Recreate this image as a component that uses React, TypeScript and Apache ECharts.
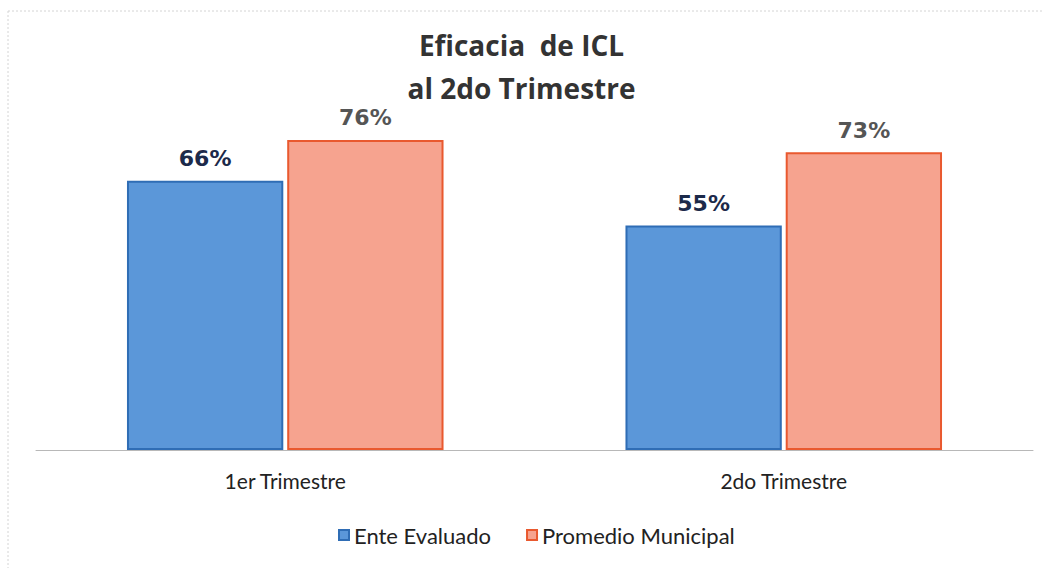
import React, { useEffect, useRef } from "react";
import * as echarts from "echarts";

const categories = ["1er Trimestre", "2do Trimestre"];
const enteEvaluado = [0.66, 0.55];
const promedioMunicipal = [0.76, 0.73];
const titleLines = ["Eficacia  de ICL", "al 2do Trimestre"];

export default function App() {
  const ref = useRef<HTMLDivElement>(null);
  useEffect(() => {
    if (!ref.current) return;
    const chart = echarts.init(ref.current, null, { renderer: "svg" });
    const pct = (p: any) => Math.round(p.value * 100) + "%";
    chart.setOption({
      animation: false,
      backgroundColor: "#ffffff",
      title: {
        text: titleLines.join("\n"),
        left: "center",
        top: 18,
        textStyle: {
          fontFamily: "Open Sans",
          fontSize: 28,
          fontWeight: "bold",
          color: "#333333",
          lineHeight: 43,
        },
      },
      graphic: [
        {
          type: "line",
          shape: { x1: 8, y1: 11, x2: 1043, y2: 11 },
          style: { stroke: "#d4d4d4", lineWidth: 1, lineDash: [2, 2] },
        },
        {
          type: "line",
          shape: { x1: 8, y1: 11, x2: 8, y2: 568 },
          style: { stroke: "#d4d4d4", lineWidth: 1, lineDash: [2, 2] },
        },
      ],
      grid: { left: 36, right: 10, top: 42, bottom: 118, containLabel: false },
      xAxis: {
        type: "category",
        data: categories,
        axisLine: { lineStyle: { color: "#b8b8b8", width: 1 } },
        axisTick: { show: false },
        axisLabel: {
          margin: 20,
          fontFamily: "Lato",
          fontSize: 21,
          color: "#222222",
        },
      },
      yAxis: {
        type: "value",
        min: 0,
        max: 1,
        show: false,
        splitLine: { show: false },
      },
      legend: {
        top: 519,
        left: 333,
        itemWidth: 10,
        itemHeight: 10,
        itemGap: 35,
        icon: "rect",
        textStyle: { fontFamily: "Lato", fontSize: 22, color: "#222222" },
        data: ["Ente Evaluado", "Promedio Municipal"],
      },
      series: [
        {
          name: "Ente Evaluado",
          type: "bar",
          data: enteEvaluado,
          barGap: "2.5%",
          barCategoryGap: "36.5%",
          itemStyle: { color: "#5b97d9", borderColor: "#2f6db5", borderWidth: 2 },
          label: {
            show: true,
            position: "top",
            distance: 11,
            formatter: pct,
            fontFamily: "DejaVu Sans",
            fontWeight: "bold",
            fontSize: 22,
            color: "#1c2a4a",
          },
        },
        {
          name: "Promedio Municipal",
          type: "bar",
          data: promedioMunicipal,
          itemStyle: { color: "#f6a38f", borderColor: "#e9592f", borderWidth: 2 },
          label: {
            show: true,
            position: "top",
            distance: 11,
            formatter: pct,
            fontFamily: "DejaVu Sans",
            fontWeight: "bold",
            fontSize: 22,
            color: "#555555",
          },
        },
      ],
    });
    return () => chart.dispose();
  }, []);
  return (
    <div
      ref={ref}
      style={{ position: "fixed", left: 0, top: 0, width: 1043, height: 568 }}
    />
  );
}
